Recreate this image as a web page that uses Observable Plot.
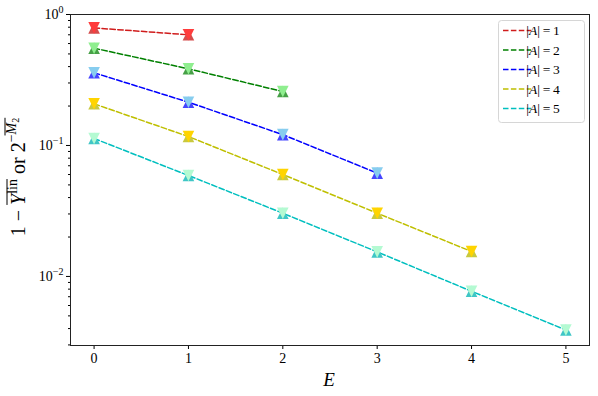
<!DOCTYPE html>
<html><head><meta charset="utf-8">
<script src="https://cdn.jsdelivr.net/npm/d3@7"></script>
<script src="https://cdn.jsdelivr.net/npm/@observablehq/plot@0.6"></script>
<style>
body{margin:0;background:#fff}
</style>
</head><body><div id="chart"></div>
<script>
// ---- data ----
const E = [0, 1, 2, 3, 4, 5];
const A1 = [0.79, 0.70];
const A2 = [0.553, 0.385, 0.258];
const A3 = [0.359, 0.214, 0.121, 0.0615];
const A4 = [0.208, 0.117, 0.060, 0.0304, 0.0155];
const A5 = [0.113, 0.059, 0.0304, 0.0154, 0.0077, 0.0039];
const seriesLabels = ["1", "2", "3", "4", "5"];
const lineColors = ["#d01c1c", "#008000", "#0000ff", "#bfbf00", "#00bfbf"];
const upColors = ["#d44c4c", "#47a047", "#4545ff", "#c9c93f", "#3fc6c6"];
const downColors = ["#ff3c3c", "#8fee8f", "#87cdef", "#ffd400", "#b4fad2"];
const xTicks = [0, 1, 2, 3, 4, 5];
const yTicks = [1, 0.1, 0.01];
const yMinor = [0.003,0.004,0.005,0.006,0.007,0.008,0.009,0.02,0.03,0.04,0.05,0.06,0.07,0.08,0.09,0.2,0.3,0.4,0.5,0.6,0.7,0.8,0.9];

const series = [A1, A2, A3, A4, A5];
const data = series.flatMap((vals, i) => vals.map((v, j) => ({E: E[j], v, s: i})));

const upTri = {draw(ctx, size) { const h = Math.sqrt(size / Math.PI); ctx.moveTo(0, -h); ctx.lineTo(h, h); ctx.lineTo(-h, h); ctx.closePath(); }};
const downTri = {draw(ctx, size) { const h = Math.sqrt(size / Math.PI); ctx.moveTo(0, h); ctx.lineTo(h, -h); ctx.lineTo(-h, -h); ctx.closePath(); }};

const FONT = '"Liberation Serif", "DejaVu Serif", serif';
const plot = Plot.plot({
  width: 598, height: 396,
  marginLeft: 70, marginRight: 9, marginTop: 14, marginBottom: 51,
  x: {domain: [-0.25, 5.25]},
  y: {type: "log", domain: [0.00297, 1]},
  color: {type: "identity"},
  style: {fontSize: "14px", fontFamily: FONT, color: "black", background: "white"},
  marks: [
    Plot.line(data, {x: "E", y: "v", z: "s", stroke: d => lineColors[d.s], strokeWidth: 1.5, strokeDasharray: "5.5,2.4"}),
    Plot.dot(data, {x: "E", y: "v", symbol: upTri, r: 5.8, fill: d => upColors[d.s], stroke: null}),
    Plot.dot(data, {x: "E", y: "v", symbol: downTri, r: 5.8, fill: d => downColors[d.s], stroke: null}),
    Plot.axisX({ticks: xTicks, tickSize: 4, tickPadding: 4, fontSize: 14, label: null, tickFormat: d => String(d)}),
    Plot.axisY({ticks: yMinor, tickSize: 2, tickFormat: () => "", label: null}),
    Plot.axisY({ticks: yTicks, tickSize: 4, tickPadding: 3, fontSize: 14, label: null,
      tickFormat: v => "10^" + Math.round(Math.log10(v))}),
    Plot.frame({stroke: "#222", strokeWidth: 1})
  ]
});
document.getElementById("chart").appendChild(plot);

const svg = d3.select(plot);

// superscript tick labels
svg.selectAll("text").each(function() {
  const t = d3.select(this);
  const s = t.text();
  const m = /^10\^(-?\d+)$/.exec(s);
  if (!m) return;
  t.text("");
  t.append("tspan").text("10");
  t.append("tspan").attr("dy", "-0.6em").attr("font-size", "10px").text(m[1].replace("-", "\u2212"));
});

// x-axis label
svg.append("text").attr("x", 329).attr("y", 386).attr("text-anchor", "middle")
  .attr("font-size", "19px").attr("font-style", "italic").text("E");

// y-axis label
const gy = svg.append("g").attr("transform", "translate(25,177) rotate(-90)");
const ty = gy.append("text").attr("font-size", "20px").attr("x", 0).attr("y", 0).attr("text-anchor", "middle");
ty.append("tspan").text("1 \u2212 ");
const tY = ty.append("tspan").attr("font-style", "italic").text("Y");
const tlin = ty.append("tspan").attr("font-size", "14px").attr("dy", "-8").text("lin");
ty.append("tspan").attr("dy", "8").text(" or 2");
ty.append("tspan").attr("font-size", "14px").attr("dy", "-9").text("\u2212");
const tM = ty.append("tspan").attr("font-size", "14px").attr("font-style", "italic").text("M");
const t2 = ty.append("tspan").attr("font-size", "10px").attr("dy", "3").text("2");
function ol(a, b, yy) {
  const b1 = a.node().getBBox(), b2 = b.node().getBBox();
  gy.append("line").attr("x1", b1.x).attr("x2", b2.x + b2.width).attr("y1", yy).attr("y2", yy)
    .attr("stroke", "black").attr("stroke-width", 1);
}
ol(tY, tlin, -18);
ol(tM, t2, -20);

// legend
const lg = svg.append("g");
lg.append("rect").attr("x", 498.5).attr("y", 20.5).attr("width", 86).attr("height", 102).attr("rx", 3)
  .attr("fill", "white").attr("fill-opacity", 0.8).attr("stroke", "#d6d6d6");
seriesLabels.forEach((lab, i) => {
  const yy = 30.5 + i * 19.5;
  lg.append("line").attr("x1", 503).attr("x2", 531).attr("y1", yy).attr("y2", yy)
    .attr("stroke", lineColors[i]).attr("stroke-width", 1.5).attr("stroke-dasharray", "5.5,2.4");
  const t = lg.append("text").attr("x", 543).attr("y", yy + 4.5).attr("font-size", "13.5px");
  t.append("tspan").text("|");
  t.append("tspan").attr("font-style", "italic").text("A");
  t.append("tspan").text("|\u2009=\u2009" + lab);
});
</script>
</body></html>
